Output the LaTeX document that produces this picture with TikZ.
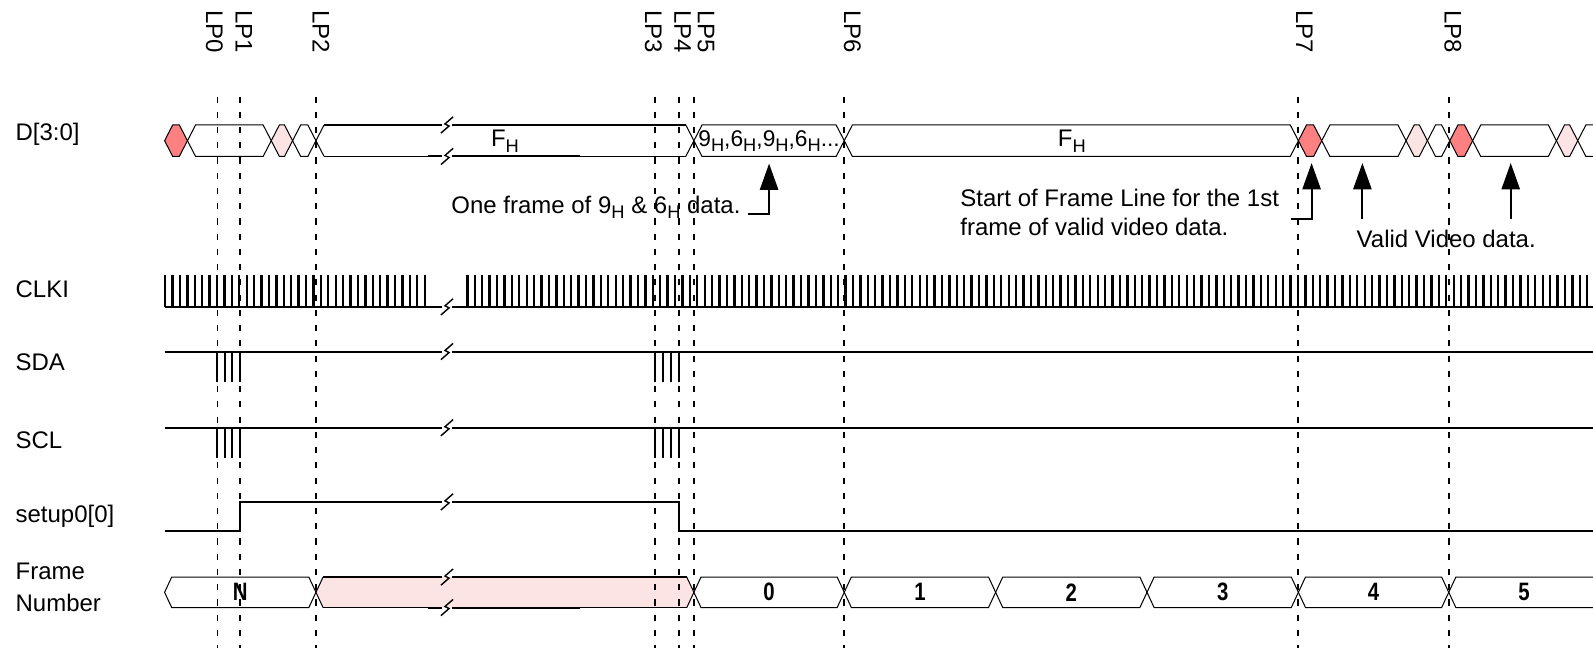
\documentclass[tikz,border=0pt]{standalone}
\usepackage{fontspec}
\usepackage{graphicx}
\setmainfont{Liberation Sans}
\usetikzlibrary{arrows.meta}
\definecolor{hexred}{RGB}{255,128,128}
\definecolor{hexpink}{RGB}{253,228,228}
\newcommand{\subH}{\raisebox{-0.4ex}{\fontsize{9}{9}\selectfont H}}
\newcommand{\brk}[2]{\draw[brkline] (#1-6,#2+8) -- (#1+2,#2+1) -- (#1-2,#2-1) -- (#1+6,#2-8);}
\newcommand{\nrw}[1]{\scalebox{0.85}[1.05]{\bfseries #1}}
\begin{document}
\begin{tikzpicture}[x=0.5pt,y=-0.5pt,font=\fontsize{11.8}{14}\selectfont,
  sigline/.style={line width=1pt},
  clkline/.style={line width=0.65pt},
  busline/.style={line width=0.5pt},
  brkline/.style={line width=0.7pt},
  lpline/.style={line width=0.9pt,dash pattern=on 3pt off 4.5pt},
  ann/.style={line width=1pt,-{Triangle[length=13pt,width=9pt]}},
  lbl/.style={anchor=west,inner sep=0pt},
  lplbl/.style={rotate=-90,anchor=west,inner sep=0pt}]
\useasboundingbox (0,0) rectangle (1568,638);
\clip (0,0) rectangle (1568,638);

% signal names
\node[lbl] (nD) at (15,132) {D[3:0]};
\node[lbl] (nCLK) at (15,285) {CLKI};
\node[lbl] (nSDA) at (15,357) {SDA};
\node[lbl] (nSCL) at (15,433) {SCL};
\node[lbl] (nSET) at (15,508) {setup0[0]};
\node[lbl,align=left,font=\fontsize{11.8}{15.5}\selectfont] (nFRM) at (15,578) {Frame\\Number};

% D[3:0]
\foreach \a/\b/\c in {162/184.5/hexred,184.5/267/white,267/288/hexpink,288/311/white,
    683/831/white,831/1278/white,1278/1301/hexred,1301/1384/white,1384/1405/hexpink,
    1405/1427/white,1427/1449.5/hexred,1449.5/1532/white,1532/1553/hexpink,1553/1640/white}
  \filldraw[busline,fill=\c] (\a,138.5) -- (\a+8,123) -- (\b-8,123) -- (\b,138.5) -- (\b-8,154) -- (\a+8,154) -- cycle;
\draw[busline] (319,123) -- (311,138.5) -- (319,154);
\draw[busline] (675,123) -- (683,138.5) -- (675,154);
\draw[sigline] (319,123) -- (435,123) (445,123) -- (675,123);
\draw[busline] (319,154) -- (435,154) (445,154) -- (675,154);
\draw[sigline] (421,154) -- (435,154) (445,154) -- (571,154);
\brk{440}{123} \brk{440}{154}
\node (fh1) at (497,139) {F\subH};
\node[inner sep=0pt,font=\fontsize{11.2}{14}\selectfont] (ninesix) at (757,139) {9\subH,6\subH,9\subH,6\subH...};
\node (fh2) at (1055,139) {F\subH};

% notes
\node[lbl] (note1) at (444,204) {One frame of 9\subH\ \& 6\subH\ data.};
\coordinate (t1) at (736,211);
\coordinate (tip1) at (757,161);
\draw[ann] (t1) -| (tip1);
\node[lbl,anchor=north west,align=left] (note2) at (945,186) {Start of Frame Line for the 1st\\frame of valid video data.};
\coordinate (t2) at (1271,215.5);
\coordinate (tip2) at (1291,160.5);
\draw[ann] (t2) -| (tip2);
\node[lbl] (note3) at (1335,235) {Valid Video data.};
\coordinate (v1) at (1341,215.5);
\coordinate (tip3) at (1341,160.5);
\coordinate (v2) at (1487,215.5);
\coordinate (tip4) at (1487,160.5);
\draw[ann] (v1) -- (tip3);
\draw[ann] (v2) -- (tip4);

% CLKI
\foreach \i in {0,...,35}
  \draw[clkline] (162+\i*7.3,302) -- ++(0,-31) -- ++(1,0) -- ++(0,31);
\foreach \i in {0,...,152}
  \draw[clkline] (459.5+\i*7.3,302) -- ++(0,-31) -- ++(1,0) -- ++(0,31);
\draw[sigline] (162,302) -- (435,302) (445,302) -- (1568,302);
\brk{440}{302}

% SDA, SCL
\foreach \y in {346,421} {
  \draw[sigline] (162,\y) -- (435,\y) (445,\y) -- (1568,\y);
  \brk{440}{\y}
  \foreach \x in {214,221.3,228.7,236,645,652.7,660.3,668}
    \draw[sigline] (\x,\y) -- (\x,\y+30);
}

% setup0[0]
\draw[sigline] (162,523) -- (236,523) -- (236,494) -- (435,494);
\draw[sigline] (445,494) -- (668,494) -- (668,523) -- (1568,523);
\brk{440}{494}

% Frame Number
\fill[hexpink] (311,583) -- (318,568) -- (676,568) -- (683,583) -- (676,598) -- (318,598) -- cycle;
\draw[busline] (318,568) -- (311,583) -- (318,598);
\draw[busline] (676,568) -- (683,583) -- (676,598);
\draw[sigline] (318,568) -- (435,568) (445,568) -- (676,568);
\draw[busline] (318,598) -- (435,598) (445,598) -- (676,598);
\draw[sigline] (421,598) -- (435,598) (445,598) -- (571,598);
\brk{440}{568} \brk{440}{598}
\foreach \a/\b/\t [count=\i] in {162/311/N,683/831/0,831/980/1,980/1129/2,1129/1278/3,1278/1426/4,1426/1600/5} {
  \draw[busline] (\a,583) -- (\a+7,568) -- (\b-7,568) -- (\b,583) -- (\b-7,598) -- (\a+7,598) -- cycle;
  \node (fn\i) at ({(\a+min(\b,1574))/2},583) {\nrw{\t}};
}

% LP markers
\foreach \n/\x/\dx in {0/214/-3,1/236/4,2/311/5,3/645/-2,4/668/4,5/683/12,6/831/8,7/1278/6,8/1426/4} {
  \node[lplbl] (lp\n) at (\x+\dx,10) {LP\n};
  \draw[lpline] (\x,95) -- (\x,638);
}
\end{tikzpicture}
\end{document}
